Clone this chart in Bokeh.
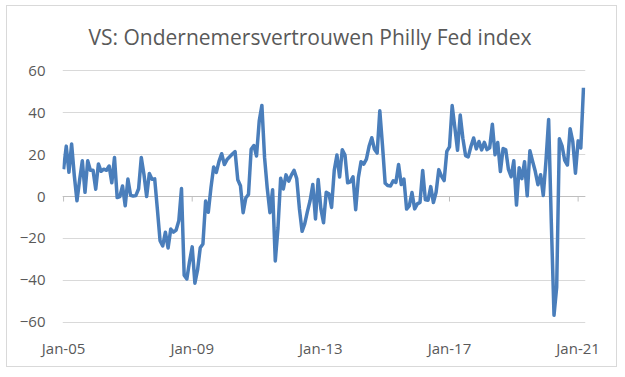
import numpy as np
from bokeh.plotting import figure
from bokeh.models import FixedTicker, Range1d, ColumnDataSource
from bokeh.embed import file_html
from bokeh.resources import INLINE

title = "VS: Ondernemersvertrouwen Philly Fed index"

# Philly Fed index, monthly, Jan 2005 - Mar 2021
v2005 = [13, 24, 11.5, 25, 10, -2, 8, 17, 2, 17, 12.5, 12.5]
v2006 = [3.5, 15.5, 12, 13, 12.5, 14.5, 6.5, 18.6, -0.5, 0, 5, -4.4]
v2007 = [8.3, 0.6, 0.2, 0.5, 3.7, 18.6, 10.5, 0, 11, 8.2, 8.4, -6]
v2008 = [-21, -23.5, -17, -24.5, -15.5, -17, -16, -11.6, 3.8, -37.5, -39.3, -31]
v2009 = [-24, -41.3, -35, -24.4, -22.6, -2.2, -7.5, 4.2, 14.1, 11.5, 16.7, 20.4]
v2010 = [15.2, 17.6, 18.9, 20.2, 21.4, 8.0, 5.1, -7.7, -0.7, 1.0, 22.5, 24.3]
v2011 = [19.3, 35.9, 43.4, 18.5, 3.9, -7.7, 3.2, -30.7, -15, 8.7, 3.6, 10.3]
v2012 = [7.3, 10.2, 12.5, 8.5, -5.8, -16.6, -12.9, -7.1, -1.9, 5.7, -10.7, 8.1]
v2013 = [-5.8, -12.5, 2.0, 1.3, -5.2, 12.5, 19.8, 9.3, 22.3, 19.8, 6.5, 7.0]
v2014 = [9.4, -6.3, 9.0, 16.6, 15.4, 17.8, 23.9, 28.0, 22.5, 20.7, 40.8, 24.3]
v2015 = [6.3, 5.2, 5.0, 7.5, 6.7, 15.2, 5.7, 8.3, -6.0, -4.5, 1.9, -5.9]
v2016 = [-3.5, -2.8, 12.4, -1.6, -1.8, 4.7, -2.9, 2.0, 12.8, 9.7, 7.6, 21.5]
v2017 = [23.6, 43.3, 32.8, 22.0, 38.8, 27.6, 19.5, 18.9, 23.8, 27.9, 22.7, 26.2]
v2018 = [22.2, 25.8, 22.3, 23.2, 34.4, 19.9, 25.7, 11.9, 22.9, 22.2, 12.9, 9.4]
v2019 = [17.0, -4.1, 13.7, 8.5, 16.6, 0.3, 21.8, 16.8, 12.0, 5.6, 10.4, 0.5]
v2020 = [17.0, 36.7, -12.7, -56.6, -43.1, 27.5, 24.1, 17.2, 15.0, 32.3, 26.3, 11.1]
v2021 = [26.5, 23.1, 51.8]

start_year = 2005
tick_labels = ["Jan-05", "Jan-09", "Jan-13", "Jan-17", "Jan-21"]
y_ticks = [-60, -40, -20, 0, 20, 40, 60]

values = (v2005 + v2006 + v2007 + v2008 + v2009 + v2010 + v2011 + v2012 +
          v2013 + v2014 + v2015 + v2016 + v2017 + v2018 + v2019 + v2020 + v2021)
x = list(range(len(values)))
tick_pos = [(2000 + int(t[-2:]) - start_year) * 12 for t in tick_labels]

grey_text = "#595959"
grid = "#D9D9D9"
font = "Open Sans"

p = figure(width=611, height=362, output_backend="svg", toolbar_location=None,
           x_range=Range1d(-0.4, len(values) - 1 + 0.75), y_range=Range1d(-60.5, 60.5),
           min_border_left=55, min_border_right=33, min_border_top=63, min_border_bottom=45,
           title=title)
p.styles = {"border": "1px solid #D9D9D9", "margin-left": "6px", "margin-top": "5px"}

p.title.align = "left"
p.title.offset = 26
p.title.vertical_align = "top"
p.title.text_font = font
p.title.text_font_size = "21px"
p.title.text_font_style = "normal"
p.title.text_color = grey_text
p.title.standoff = 33

p.outline_line_color = None
p.xgrid.grid_line_color = None
p.ygrid.grid_line_color = grid
p.ygrid.grid_line_width = 1

p.yaxis.ticker = FixedTicker(ticks=y_ticks)
p.yaxis.axis_line_color = None
p.yaxis.major_tick_line_color = None
p.yaxis.minor_tick_line_color = None
p.yaxis.major_label_text_font = font
p.yaxis.major_label_text_font_size = "15px"
p.yaxis.major_label_text_color = grey_text
p.yaxis.major_label_standoff = 11

p.xaxis.ticker = FixedTicker(ticks=tick_pos)
p.xaxis.major_label_overrides = {tp: lab for tp, lab in zip(tick_pos, tick_labels)}
p.xaxis.axis_line_color = None
p.xaxis.major_tick_line_color = None
p.xaxis.minor_tick_line_color = None
p.xaxis.major_label_text_font = font
p.xaxis.major_label_text_font_size = "15px"
p.xaxis.major_label_text_color = grey_text
p.xaxis.major_label_standoff = 8

# horizontal axis line at zero with small tick marks
p.segment(x0=[x[0] - 0.4], x1=[x[-1] + 0.75], y0=[0], y1=[0], line_color="#BFBFBF", line_width=1)
p.segment(x0=tick_pos, x1=tick_pos, y0=[0] * len(tick_pos), y1=[-2.4] * len(tick_pos),
          line_color="#BFBFBF", line_width=1)

src = ColumnDataSource(dict(x=x, y=values))
p.line("x", "y", source=src, line_color="#4A7EBB", line_width=3.5, line_join="round")

open("out.html", "w").write(file_html(p, INLINE))
